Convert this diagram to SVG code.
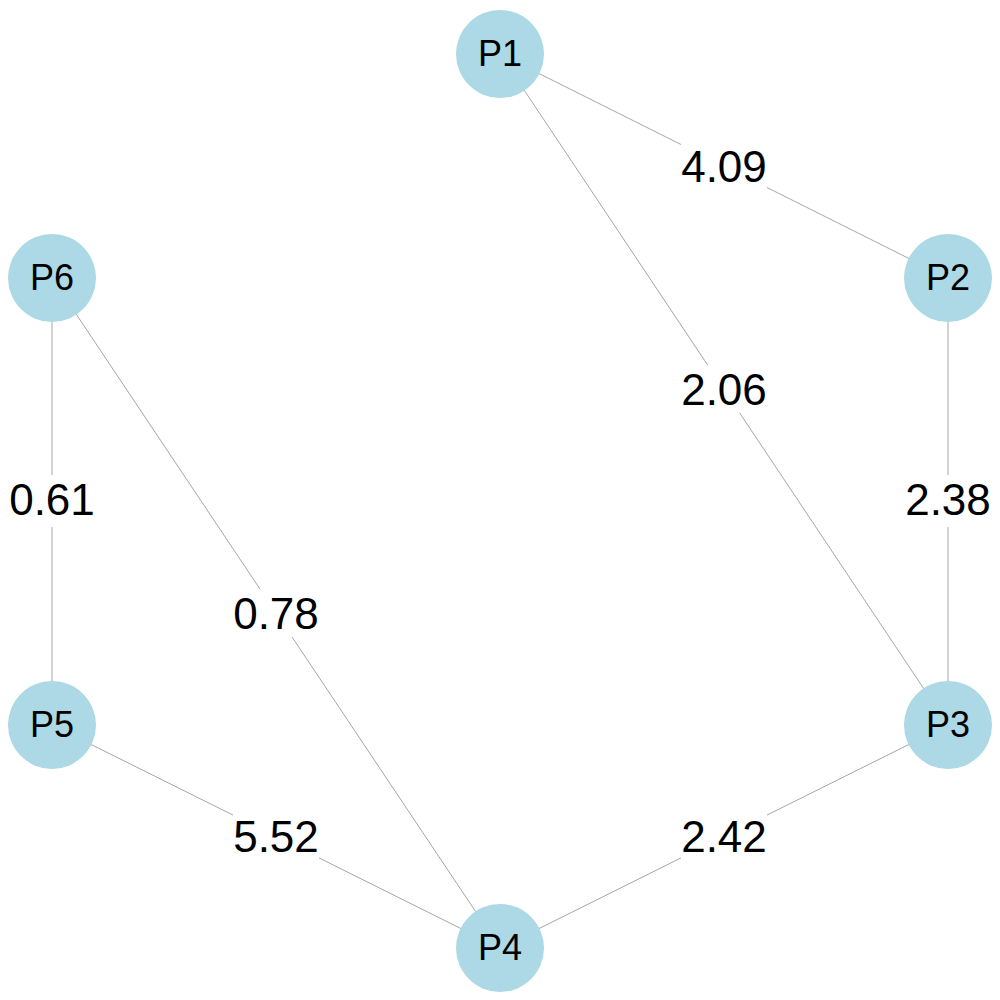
<svg xmlns="http://www.w3.org/2000/svg" width="1000" height="1000" viewBox="0 0 1000 1000">
<style>
.edge{stroke:#a6a6a6;stroke-width:1;fill:none}
.bg{fill:#ffffff}
.lbl{font-family:"Liberation Sans",Arial,sans-serif;font-size:44px;fill:#000;text-anchor:middle}
.node circle{fill:#add8e6}
.node text{font-family:"Liberation Sans",Arial,sans-serif;font-size:36px;fill:#000;text-anchor:middle}
</style>
<rect width="1000" height="1000" fill="#fff"/>
<g id="connectors">
<line class="edge" x1="500" y1="54" x2="948" y2="278"/>
<line class="edge" x1="500" y1="54" x2="948" y2="725"/>
<line class="edge" x1="948" y1="278" x2="948" y2="725"/>
<line class="edge" x1="948" y1="725" x2="500" y2="948"/>
<line class="edge" x1="52" y1="725" x2="500" y2="948"/>
<line class="edge" x1="52" y1="278" x2="500" y2="948"/>
<line class="edge" x1="52" y1="278" x2="52" y2="725"/>
<g id="edge-labels">
<rect class="bg" x="681" y="142" width="86" height="48"/><text class="lbl" x="724" y="182">4.09</text>
<rect class="bg" x="681" y="365" width="86" height="48"/><text class="lbl" x="724" y="405">2.06</text>
<rect class="bg" x="905" y="475" width="86" height="52"/><text class="lbl" x="948" y="515">2.38</text>
<rect class="bg" x="681" y="812" width="86" height="48"/><text class="lbl" x="724" y="852">2.42</text>
<rect class="bg" x="233" y="812" width="86" height="48"/><text class="lbl" x="276" y="852">5.52</text>
<rect class="bg" x="233" y="589" width="86" height="48"/><text class="lbl" x="276" y="629">0.78</text>
<rect class="bg" x="9" y="475" width="86" height="52"/><text class="lbl" x="52" y="515">0.61</text>
</g>
</g>
<g id="P1" class="node"><circle cx="500" cy="54" r="44"/><text x="500" y="66">P1</text></g>
<g id="P2" class="node"><circle cx="948" cy="278" r="44"/><text x="948" y="290">P2</text></g>
<g id="P3" class="node"><circle cx="948" cy="725" r="44"/><text x="948" y="737">P3</text></g>
<g id="P4" class="node"><circle cx="500" cy="948" r="44"/><text x="500" y="960">P4</text></g>
<g id="P5" class="node"><circle cx="52" cy="725" r="44"/><text x="52" y="737">P5</text></g>
<g id="P6" class="node"><circle cx="52" cy="278" r="44"/><text x="52" y="290">P6</text></g>
</svg>
